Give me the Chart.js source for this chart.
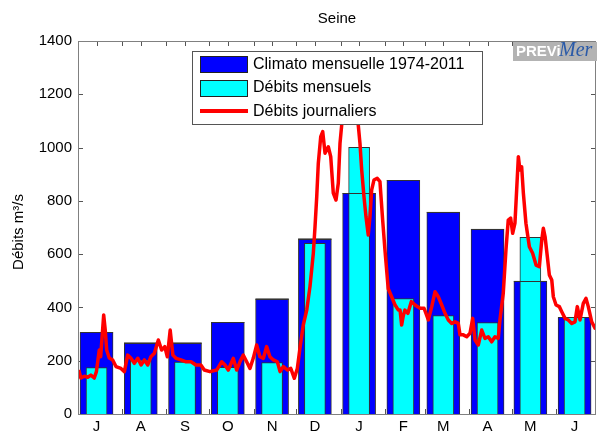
<!DOCTYPE html>
<html lang="fr">
  <head>
    <meta charset="UTF-8" />
    <title>Seine</title>
    <script src="https://cdn.jsdelivr.net/npm/chart.js"></script>
    <style>
      html, body { margin: 0; padding: 0; background: #fff; }
      #wrap { width: 597px; height: 437px; }
    </style>
  </head>
  <body>
    <div id="wrap"><canvas id="seineChart" width="597" height="437"></canvas></div>
    <script>
      // x axis: days counted from 1 July
      const monthLabels = ["J", "A", "S", "O", "N", "D", "J", "F", "M", "A", "M", "J"];
      const monthStarts = [0, 31, 62, 92, 123, 153, 184, 215, 243, 274, 304, 335];
      const barDays = [13, 44, 75, 105, 136, 166, 197, 228, 256, 287, 317, 348];
      const yTicks = [0, 200, 400, 600, 800, 1000, 1200, 1400];

      // monthly flows (m3/s)
      const climato = [307, 268, 268, 344, 433, 658, 828, 877, 758, 694, 499, 363];
      const mensuels = [174, 202, 195, 175, 193, 641, 1001, 433, 369, 343, 663, 363];

      // daily flows (m3/s)
      const dailyDays = [
        0.5, 2, 4.4, 6.8, 9, 11.4, 12.9, 14.9, 15.9, 18, 19.1, 20.1, 21.9, 24.3, 26.6,
        30.1, 32.5, 34.8, 37.1, 39.5, 41.9, 44.2, 46.5, 48.9, 51.1, 53.5, 56.3, 58.6,
        60.8, 62.6, 64.6, 66.5, 68.7, 72.2, 75.7, 79.2, 82.6, 86.1, 88.5, 92.5, 97.2,
        100.7, 103, 105.3, 108.8, 111.2, 113.5, 115.8, 118.2, 120.5, 122.8, 125.2,
        127.5, 129.9, 132.2, 134.5, 136.9, 139.7, 141.6, 143.9, 146.7, 149.1, 151.6,
        153.7, 155.6, 157.9, 160.3, 162.6, 164.9, 166.1, 167.3, 168.4, 170.1, 171.5,
        173.1, 175.4, 177.1, 178.9, 180.8, 182.4, 183.6, 184.8, 187, 189, 191, 193,
        195, 196.4, 197.6, 198.8, 200.4, 201.8, 203.4, 204.6, 205.8, 207.4, 209.7,
        211.6, 213.5, 215.1, 217.4, 219.8, 222.1, 224.5, 225.7, 226.8, 228, 229.1,
        231.2, 233.6, 236.2, 239.7, 242.5, 245.5, 247.9, 250.2, 252.5, 254.9, 257.2,
        259.5, 261.9, 264.2, 266.5, 267.7, 270, 272.4, 274.7, 276.6, 278.2, 280.5,
        282.9, 285.2, 287.5, 289.9, 292.2, 294.5, 295.7, 298, 299.9, 301.5, 303.2,
        304.6, 306.2, 307.4, 308.6, 309.7, 310.9, 312.1, 313.9, 316.3, 318.6, 321,
        323.3, 325, 326.1, 327.3, 328.9, 330.3, 332, 333.1, 335, 337.3, 339, 341.3,
        343.6, 346, 348.3, 349.9, 351.8, 354.1, 356, 357.6, 360, 362.3, 363
      ];
      const dailyValues = [
        165, 135, 142, 138, 146, 135, 159, 240, 215, 372, 315, 240, 210, 203, 178,
        171, 159, 221, 209, 190, 209, 184, 203, 184, 215, 228, 278, 240,
        253, 215, 315, 221, 209, 203, 196, 196, 184, 184, 165, 159, 165,
        196, 184, 165, 209, 165, 196, 221, 196, 171, 209, 259,
        215, 209, 253, 215, 203, 196, 159, 178, 165, 171, 134,
        171, 250, 335, 390, 480, 603, 703, 816, 941, 1041, 1060,
        979, 1003, 966, 829, 803, 866, 1016, 1085, 1180, 1240, 1260, 1220,
        1150, 1085, 1016, 916, 816, 741, 672, 741, 841, 878, 885,
        872, 728, 616, 470, 440, 410, 390, 390, 334, 370, 390,
        378, 422, 409, 397, 397, 353, 403, 459, 440, 409, 378,
        353, 340, 346, 340, 297, 297, 290, 303, 359, 278, 259,
        315, 284, 290, 271, 290, 284, 353, 453, 616, 728, 735,
        678, 716, 841, 966, 916, 928, 829, 716, 628, 603, 559,
        553, 653, 697, 666, 590, 522, 503, 440, 409, 403, 384,
        359, 353, 340, 346, 403, 353, 415, 434, 403, 346, 322, 320
      ];

      const FONT = "'Liberation Sans', Arial, Helvetica, sans-serif";

      // axes box, inward ticks, legend, title and logo
      const framePlugin = {
        id: "frame",
        beforeDatasetsDraw(chart) {
          const { ctx, chartArea: a, scales } = chart;
          ctx.save();
          ctx.strokeStyle = "#555";
          ctx.lineWidth = 1;
          ctx.beginPath();
          yTicks.forEach((v) => {
            const py = Math.round(scales.y.getPixelForValue(v)) + 0.5;
            ctx.moveTo(a.left, py); ctx.lineTo(a.left + 5, py);
            ctx.moveTo(a.right, py); ctx.lineTo(a.right - 5, py);
          });
          monthStarts.concat(barDays).forEach((d) => {
            const px = Math.round(scales.x.getPixelForValue(d)) + 0.5;
            if (px <= a.left + 1) return;
            ctx.moveTo(px, a.top); ctx.lineTo(px, a.top + 5);
            ctx.moveTo(px, a.bottom); ctx.lineTo(px, a.bottom - 5);
          });
          ctx.stroke();
          ctx.restore();
        },
        afterDatasetDraw(chart, args) {
          // blue bar outline shows over the cyan bars
          if (args.index !== 1) return;
          const ctx = chart.ctx;
          ctx.save();
          ctx.strokeStyle = "#333";
          ctx.lineWidth = 1;
          ctx.beginPath();
          chart.getDatasetMeta(0).data.forEach((bar) => {
            const py = Math.round(bar.y) + 0.5;
            ctx.moveTo(bar.x - bar.width / 2, py);
            ctx.lineTo(bar.x + bar.width / 2, py);
          });
          ctx.stroke();
          ctx.restore();
        },
        afterDraw(chart) {
          const { ctx, chartArea: a } = chart;
          ctx.save();
          // box
          ctx.strokeStyle = "#808080";
          ctx.lineWidth = 1;
          ctx.strokeRect(a.left + 0.5, a.top + 0.5, a.right - a.left - 1, a.bottom - a.top);

          // title
          ctx.fillStyle = "#000";
          ctx.font = "15px " + FONT;
          ctx.textAlign = "center";
          ctx.textBaseline = "middle";
          ctx.fillText("Seine", (a.left + a.right) / 2, 19);

          // y title
          ctx.save();
          ctx.translate(19, 232);
          ctx.rotate(-Math.PI / 2);
          ctx.fillText("Débits m³/s", 0, 0);
          ctx.restore();

          // legend
          ctx.fillStyle = "#fff";
          ctx.fillRect(192, 51, 291, 74);
          ctx.strokeStyle = "#555";
          ctx.strokeRect(192.5, 51.5, 290, 73);
          ctx.fillStyle = "#0000ff";
          ctx.fillRect(200, 56, 48, 17);
          ctx.strokeStyle = "#222";
          ctx.strokeRect(200.5, 56.5, 47, 16);
          ctx.fillStyle = "#00ffff";
          ctx.fillRect(200, 80, 48, 17);
          ctx.strokeRect(200.5, 80.5, 47, 16);
          ctx.strokeStyle = "#ff0000";
          ctx.lineWidth = 4;
          ctx.beginPath();
          ctx.moveTo(200, 111);
          ctx.lineTo(248, 111);
          ctx.stroke();
          ctx.fillStyle = "#000";
          ctx.font = "16px " + FONT;
          ctx.textAlign = "left";
          ctx.fillText("Climato mensuelle 1974-2011", 253, 65);
          ctx.fillText("Débits mensuels", 253, 88);
          ctx.fillText("Débits journaliers", 253, 112);

          // logo
          ctx.fillStyle = "#b3b3b3";
          ctx.fillRect(513, 42, 84, 19);
          ctx.font = "bold 15px 'Liberation Sans Narrow', " + FONT;
          ctx.fillStyle = "#fff";
          ctx.fillText("PREVi", 516, 52);
          ctx.font = "italic 20px 'Liberation Serif', serif";
          ctx.fillStyle = "#2a5aa8";
          ctx.fillText("Mer", 559, 51);
          ctx.restore();
        },
      };

      new Chart(document.getElementById("seineChart"), {
        data: {
          datasets: [
            {
              type: "bar",
              label: "Climato mensuelle 1974-2011",
              data: barDays.map((d, i) => ({ x: d, y: climato[i] })),
              backgroundColor: "#0000ff",
              borderColor: "#333",
              borderWidth: 1,
              barThickness: 33,
              grouped: false,
              order: 3,
            },
            {
              type: "bar",
              label: "Débits mensuels",
              data: barDays.map((d, i) => ({ x: d, y: mensuels[i] })),
              backgroundColor: "#00ffff",
              borderColor: "#333",
              borderWidth: 1,
              barThickness: 21,
              grouped: false,
              order: 2,
            },
            {
              type: "line",
              label: "Débits journaliers",
              data: dailyDays.map((d, i) => ({ x: d, y: dailyValues[i] })),
              borderColor: "#ff0000",
              borderWidth: 3.5,
              pointRadius: 0,
              tension: 0,
              borderJoinStyle: "round",
              order: 1,
            },
          ],
        },
        options: {
          responsive: false,
          animation: false,
          devicePixelRatio: 1,
          layout: { padding: { top: 41, right: 1, left: 0, bottom: 0 } },
          plugins: {
            legend: { display: false },
            title: { display: false },
            tooltip: { enabled: false },
          },
          scales: {
            x: {
              type: "linear",
              offset: false,
              min: 0,
              max: 363,
              grid: { display: false, drawTicks: false, offset: false },
              border: { display: false },
              afterBuildTicks: (s) => {
                s.ticks = barDays.map((d) => ({ value: d }));
              },
              afterFit: (s) => { s.height = 23; },
              ticks: {
                autoSkip: false,
                maxRotation: 0,
                padding: 4,
                color: "#000",
                font: { family: FONT, size: 15 },
                callback: (v, i) => monthLabels[i],
              },
            },
            y: {
              min: 0,
              max: 1400,
              grid: { display: false, drawTicks: false },
              border: { display: false },
              afterFit: (s) => { s.width = 78; },
              ticks: {
                stepSize: 200,
                padding: 6,
                color: "#000",
                font: { family: FONT, size: 15 },
                callback: (v) => String(v),
              },
            },
          },
        },
        plugins: [framePlugin],
      });
    </script>
  </body>
</html>
